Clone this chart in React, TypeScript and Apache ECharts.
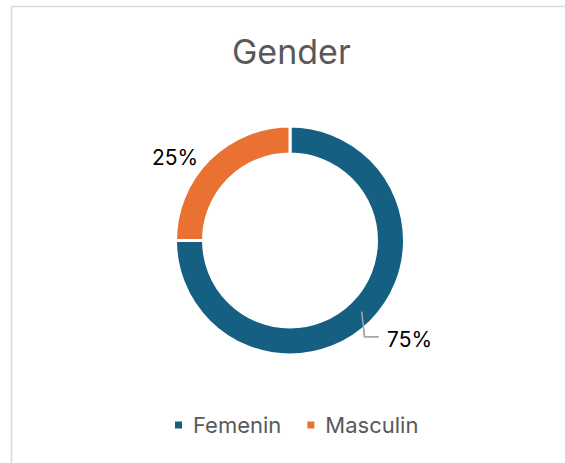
import React, { useEffect, useRef } from "react";
import * as echarts from "echarts";

const categories = ["Femenin", "Masculin"];
const values = [75, 25];
const colors = ["#156082", "#E97132"];
const titleText = "Gender";

export default function App() {
  const ref = useRef<HTMLDivElement>(null);
  useEffect(() => {
    if (!ref.current) return;
    const chart = echarts.init(ref.current, undefined, { renderer: "svg" });
    const font = "Inter, 'Noto Sans', sans-serif";
    const leader = [[361.7, 311.7], [364.5, 336.7], [378.5, 336.7]];
    chart.setOption({
      animation: false,
      backgroundColor: "#ffffff",
      color: colors,
      title: {
        text: titleText,
        left: 227,
        top: 29,
        textStyle: { fontFamily: font, fontSize: 34, fontWeight: "normal", color: "#595959" },
      },
      legend: {
        bottom: 22,
        left: 168,
        icon: "rect",
        itemWidth: 9,
        itemHeight: 9,
        itemGap: 24,
        textStyle: { fontFamily: font, fontSize: 22, color: "#595959", padding: [0, 0, 0, 5] },
        data: categories,
      },
      graphic: [
        {
          type: "rect",
          silent: true,
          shape: { x: 11.5, y: 6.5, width: 570, height: 470 },
          style: { fill: "none", stroke: "#d9d9d9", lineWidth: 1.5 },
        },
        {
          type: "polyline",
          silent: true,
          z: 100,
          shape: { points: leader },
          style: { fill: "none", stroke: "#a6a6a6", lineWidth: 1.5 },
        },
      ],
      series: [
        {
          type: "pie",
          center: [290, 240.5],
          radius: [86.5, 114.5],
          startAngle: 90,
          clockwise: true,
          avoidLabelOverlap: false,
          itemStyle: { borderColor: "#ffffff", borderWidth: 3 },
          label: {
            show: true,
            position: "outside",
            formatter: (p: any) => Math.round(p.percent) + "%",
            fontFamily: font,
            fontSize: 21,
            color: "#000000",
          },
          labelLine: {
            show: true,
            showAbove: true,
            length: 8,
            length2: 10,
            lineStyle: { color: "#a6a6a6", width: 1.5 },
          },
          labelLayout: (params: any) => {
            if (params.dataIndex === 0) {
              return {
                x: 387,
                y: 339,
                align: "left",
                verticalAlign: "middle",
                labelLinePoints: leader,
              };
            }
            return { x: 175, y: 157, align: "center", verticalAlign: "middle" };
          },
          data: categories.map((c, i) => ({
            name: c,
            value: values[i],
            labelLine: i === 1 ? { show: false } : undefined,
          })),
        },
      ],
    });
    return () => chart.dispose();
  }, []);
  return (
    <div
      ref={ref}
      style={{ position: "fixed", left: 0, top: 0, width: 565, height: 463 }}
    />
  );
}
